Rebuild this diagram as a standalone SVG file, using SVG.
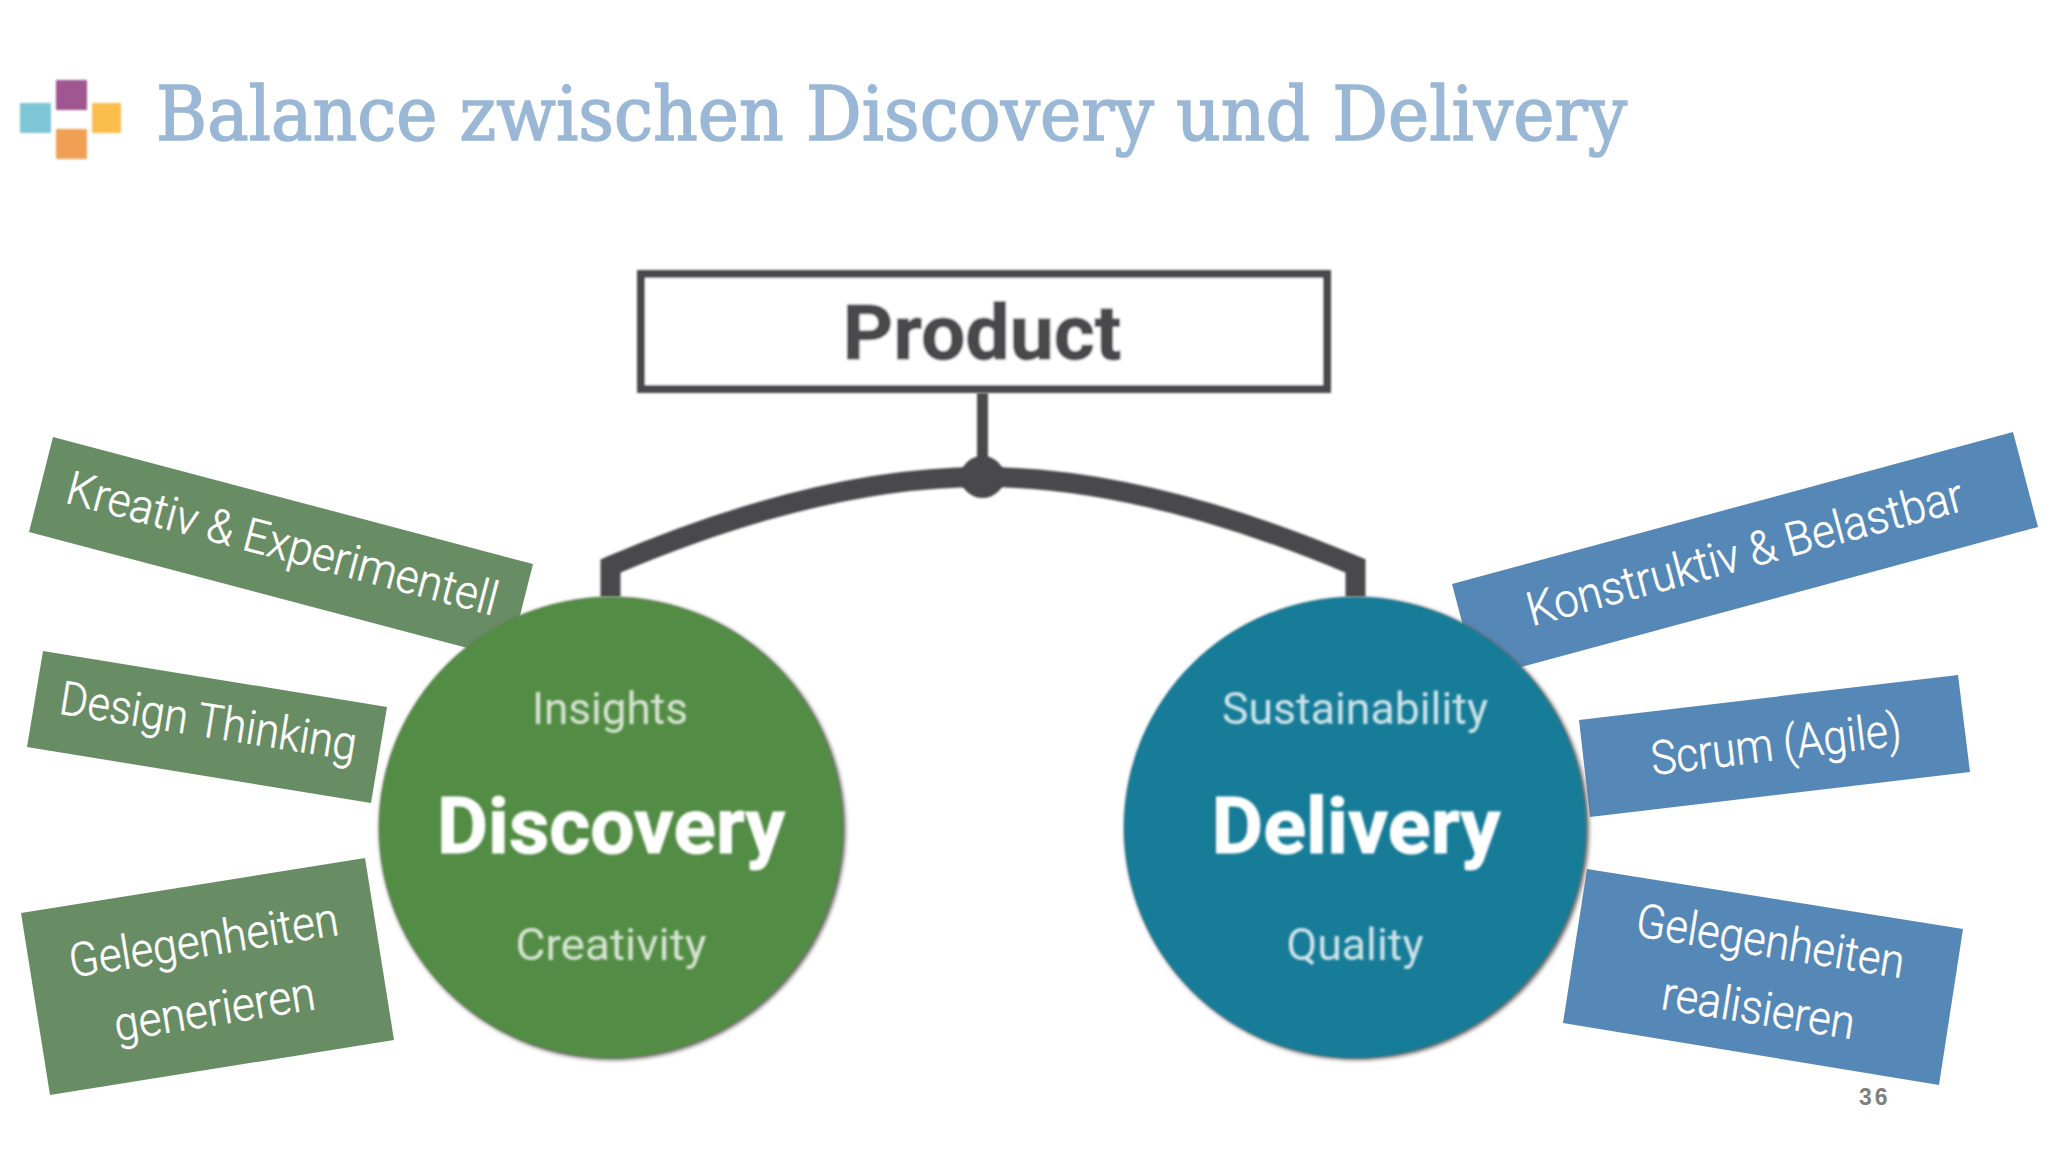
<svg xmlns="http://www.w3.org/2000/svg" width="2048" height="1152" viewBox="0 0 2048 1152">
<defs>
<filter id="soft" x="-5%" y="-5%" width="110%" height="110%"><feGaussianBlur stdDeviation="1.2"/></filter>
<filter id="softer" x="-10%" y="-30%" width="120%" height="160%"><feGaussianBlur stdDeviation="0.8"/></filter>
<filter id="shade" x="-5%" y="-5%" width="110%" height="110%"><feGaussianBlur stdDeviation="2"/></filter>
</defs>
<style>
.lnk{fill:none;stroke:#4a484c;stroke-linejoin:miter}
.gb{fill:#688c64}
.bb{fill:#5587b7}
.bt{font-family:"Roboto","Liberation Sans",sans-serif;font-weight:300;font-size:47px;fill:#fff;stroke:#fff;stroke-width:.5px;text-anchor:middle}
.sub{font-family:"Roboto","Liberation Sans",sans-serif;font-weight:400;font-size:44px;text-anchor:middle}
.big{font-family:"Roboto","Liberation Sans",sans-serif;font-weight:700;font-size:78px;fill:#fff;stroke:#fff;stroke-width:1px;text-anchor:middle}
.sh{fill:#6f6b6b}
</style>
<rect width="2048" height="1152" fill="#fff"/>
<g id="logo" filter="url(#softer)">
<rect x="56" y="80" width="31" height="30" fill="#a05690"/>
<rect x="20" y="103" width="31" height="30" fill="#7ec5d6"/>
<rect x="92" y="103" width="29" height="30" fill="#fbbe4e"/>
<rect x="56" y="129" width="31" height="30" fill="#f0a055"/>
</g>
<text id="title" x="156" y="140" font-family="'DejaVu Serif','Liberation Serif',serif" font-size="74" fill="#9ab8d6" stroke="#9ab8d6" stroke-width="1.600" textLength="1471" lengthAdjust="spacingAndGlyphs">Balance zwischen Discovery und Delivery</text>
<g id="connectors" filter="url(#softer)">
<path class="lnk" stroke-width="11" d="M982.500 393V460"/>
<path class="lnk" stroke-width="20" d="M610.500 597V566C730 515 860 477 982 477C1105 477 1235 515 1355.500 566V597"/>
</g>
<g id="product" filter="url(#softer)">
<rect x="641" y="274" width="686" height="115" fill="#fff" stroke="#4a484c" stroke-width="8"/>
<text x="982" y="359" font-family="Roboto,'Liberation Sans',sans-serif" font-weight="700" font-size="76" fill="#4a484c" stroke="#4a484c" stroke-width="1" text-anchor="middle" textLength="279" lengthAdjust="spacingAndGlyphs">Product</text>
</g>
<g id="junction" filter="url(#softer)"><ellipse cx="982.500" cy="477" rx="22" ry="21" fill="#4a484c"/></g>
<g id="box-kreativ">
<polygon class="gb" points="53,437 533,564 509,659 29,532"/>
<text class="bt" transform="translate(278.500,559) rotate(14.800)" textLength="444" lengthAdjust="spacingAndGlyphs">Kreativ &amp; Experimentell</text>
</g>
<g id="box-design">
<polygon class="gb" points="43,651 387,707 371,803 27,747"/>
<text class="bt" transform="translate(206,737) rotate(9)" textLength="300" lengthAdjust="spacingAndGlyphs">Design Thinking</text>
</g>
<g id="box-generieren">
<polygon class="gb" points="365,858 394,1040 50,1095 21,913"/>
<text class="bt" transform="translate(206,956) rotate(-9.100)" textLength="272" lengthAdjust="spacingAndGlyphs">Gelegenheiten</text>
<text class="bt" transform="translate(217,1025) rotate(-9.100)" textLength="203" lengthAdjust="spacingAndGlyphs">generieren</text>
</g>
<g id="box-konstruktiv">
<polygon class="bb" points="1452,584 2013,432 2038,527 1477,679"/>
<text class="bt" transform="translate(1749,568) rotate(-15)" textLength="450" lengthAdjust="spacingAndGlyphs">Konstruktiv &amp; Belastbar</text>
</g>
<g id="box-scrum">
<polygon class="bb" points="1579,720 1958,675 1970,772 1590,817"/>
<text class="bt" transform="translate(1778,760) rotate(-6.800)" textLength="252" lengthAdjust="spacingAndGlyphs">Scrum (Agile)</text>
</g>
<g id="box-realisieren">
<polygon class="bb" points="1587,869 1963,929 1939,1085 1563,1023"/>
<text class="bt" transform="translate(1768,957) rotate(9)" textLength="271" lengthAdjust="spacingAndGlyphs">Gelegenheiten</text>
<text class="bt" transform="translate(1756,1024) rotate(9)" textLength="195" lengthAdjust="spacingAndGlyphs">realisieren</text>
</g>
<g id="discovery">
<ellipse class="sh" cx="612.500" cy="829" rx="233" ry="231" filter="url(#shade)"/>
<ellipse cx="611" cy="827.500" rx="232" ry="230.500" fill="#528c44" filter="url(#softer)"/>
<g filter="url(#soft)">
<text class="sub" x="610" y="724" fill="#d6e4d2" textLength="156" lengthAdjust="spacingAndGlyphs">Insights</text>
<text class="big" x="611" y="853" textLength="348" lengthAdjust="spacingAndGlyphs">Discovery</text>
<text class="sub" x="611" y="960" fill="#d6e4d2" textLength="191" lengthAdjust="spacingAndGlyphs">Creativity</text>
</g>
</g>
<g id="delivery">
<ellipse class="sh" cx="1357" cy="829" rx="232" ry="231" filter="url(#shade)"/>
<ellipse cx="1355" cy="827.500" rx="231" ry="230.500" fill="#147b98" filter="url(#softer)"/>
<g filter="url(#soft)">
<text class="sub" x="1355" y="724" fill="#cfe3ea" textLength="266" lengthAdjust="spacingAndGlyphs">Sustainability</text>
<text class="big" x="1356" y="853" textLength="289" lengthAdjust="spacingAndGlyphs">Delivery</text>
<text class="sub" x="1355" y="960" fill="#cfe3ea" textLength="137" lengthAdjust="spacingAndGlyphs">Quality</text>
</g>
</g>
<text id="page" x="1859" y="1105" font-family="'Liberation Sans',sans-serif" font-weight="700" font-size="23" letter-spacing="3" fill="#7f7f7f">36</text>
</svg>
